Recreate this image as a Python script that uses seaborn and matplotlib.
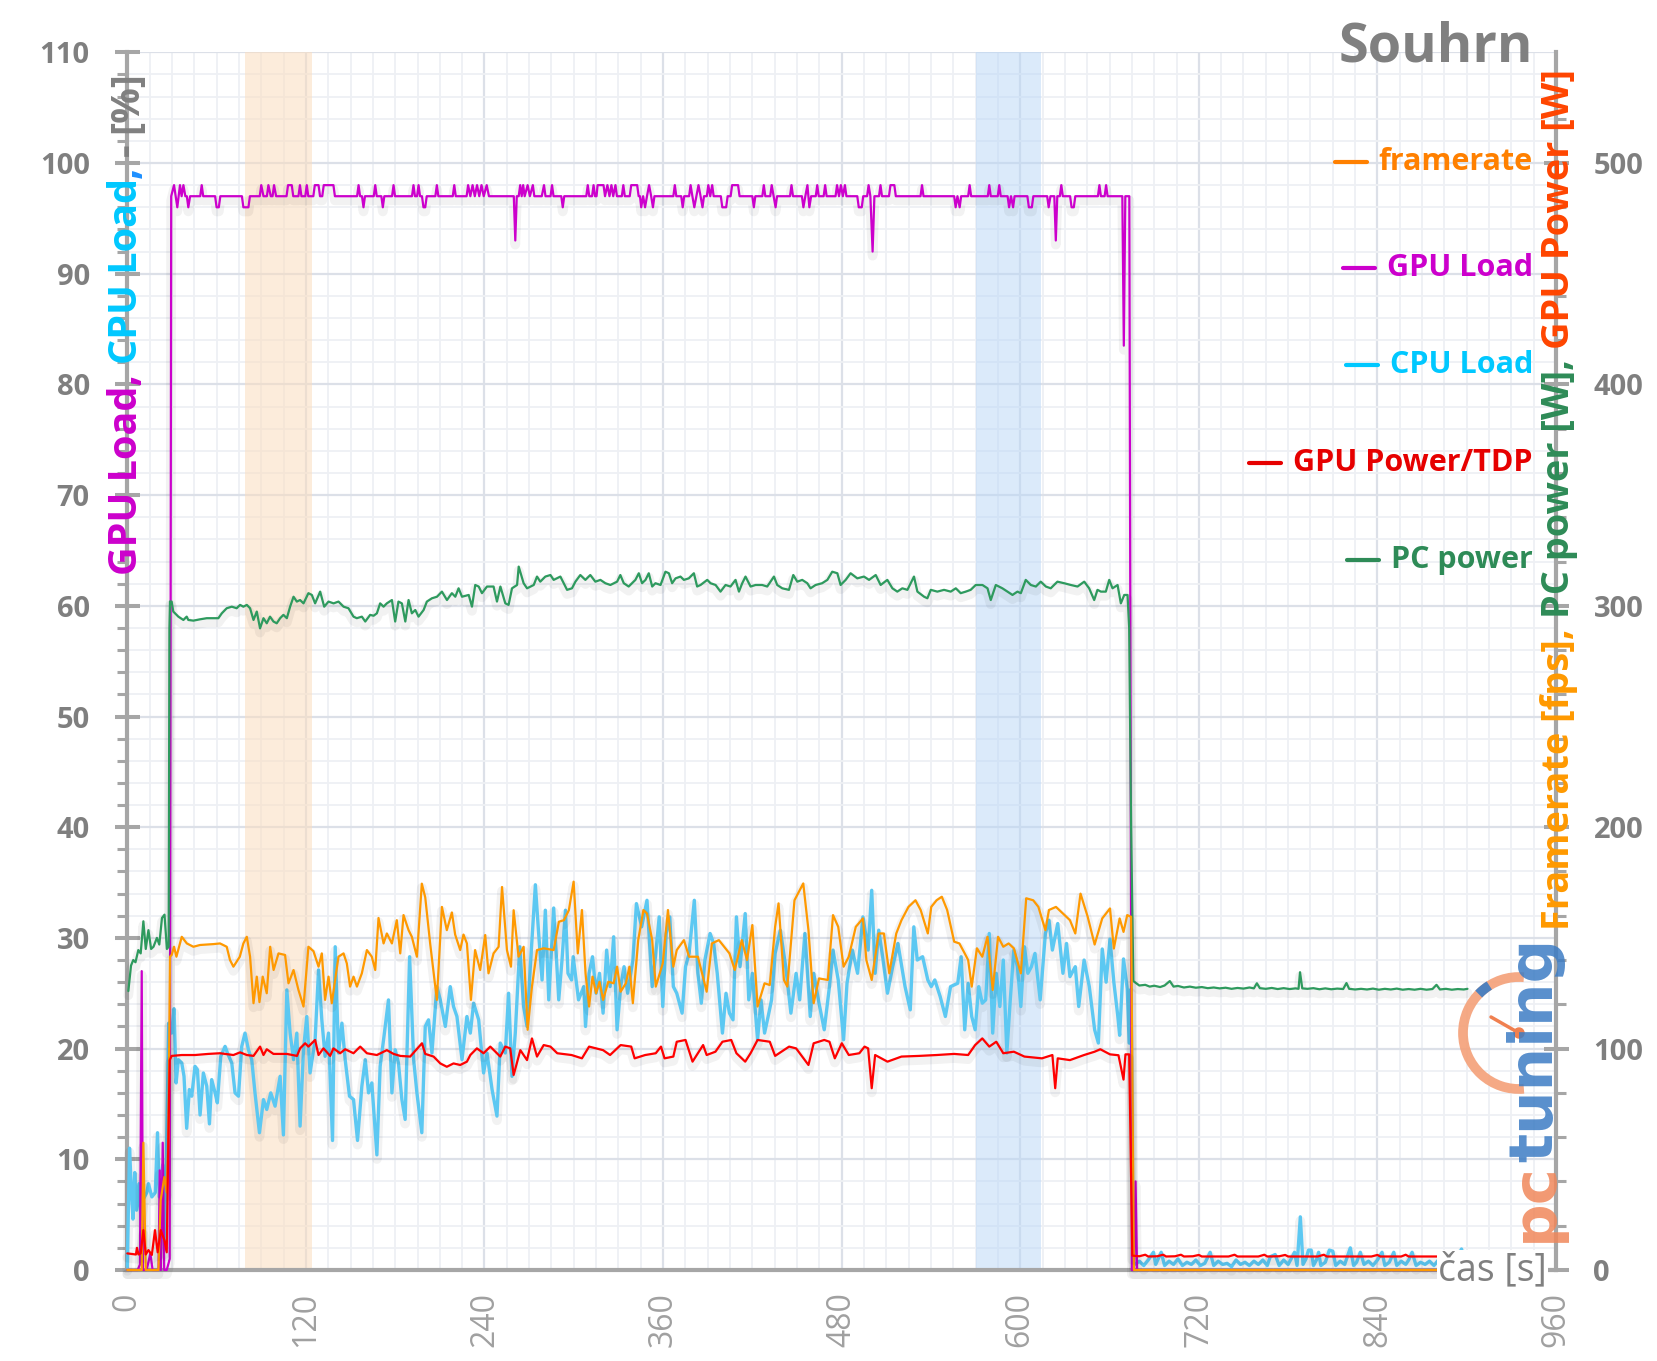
"""Souhrn: GPU/CPU load, framerate, GPU power and PC power over time."""

import matplotlib
matplotlib.use("Agg")
import matplotlib.pyplot as plt
import matplotlib.patheffects as pe
import pandas as pd
import seaborn as sns
from matplotlib.lines import Line2D
from matplotlib.patches import Arc, Circle
from matplotlib.ticker import MultipleLocator
from matplotlib.transforms import IdentityTransform

# ---------------------------------------------------------------- data
# (time [s], value) pairs

# GPU load [%]
gpu_load = [
    (0, 0), (7, 0), (8.5, 0.5), (9.7, 27), (10.5, 0), (13, 0), (15.5, 1.5), (17, 0), (21, 0), (21.8, 9),
    (22.6, 0), (23.8, 11.5), (24.8, 0), (26.5, 0), (28.5, 1), (29.5, 97),
    (31.4, 98), (32.5, 97), (33.6, 96), (34.5, 97), (35.4, 98), (36.5, 97), (37.7, 98), (39, 97), (40, 97),
    (41, 96), (42.2, 97), (49, 97), (50, 98), (51, 97), (59, 97), (60, 96), (61.5, 96), (62.5, 97),
    (77, 97), (78, 96), (81.4, 96), (82.4, 97), (89, 97), (90, 98), (91.5, 97), (93.8, 97), (94.8, 98),
    (96.4, 97), (97.6, 97), (98.6, 98), (100, 97), (107, 97), (108, 98), (110.5, 98), (111.5, 97),
    (115, 97), (116, 98), (117, 97), (119.6, 97), (120.6, 98), (121.6, 97), (125, 97), (126, 98),
    (128.5, 98), (129.5, 97), (131, 97), (132, 98), (138.5, 98), (139.5, 97),
    (154.4, 97), (155.4, 98), (156.4, 97), (157.7, 97), (158.7, 96), (159.7, 97),
    (165.6, 97), (166.6, 98), (167.6, 97), (170.7, 97), (171.7, 96), (172.7, 97), (177.9, 97), (178.9, 98),
    (179.9, 97), (191.3, 97), (192.3, 98), (193.3, 97), (194.7, 97), (195.7, 98), (196.7, 97), (198, 97),
    (199, 96), (200.2, 96), (201.2, 97), (207, 97), (208, 98), (209, 97), (218.7, 97), (219.7, 98),
    (220.7, 97), (228, 97), (229, 98), (230.5, 97), (232, 98), (233.5, 97), (235, 98), (236.5, 97),
    (238, 98), (239.5, 97), (241.5, 98), (243, 97), (259.7, 97), (260.7, 93), (261.7, 97), (263, 97),
    (264, 98), (265, 97), (266, 98), (267, 97), (269, 98), (270.5, 97), (272.5, 98), (273.5, 97),
    (278.5, 97), (280, 98), (281, 97), (284.4, 97), (285.4, 98), (286.4, 97), (291.6, 97), (292.6, 96),
    (293.6, 97), (308.4, 97), (309.4, 98), (310.4, 97), (312.3, 97), (313.3, 98), (314.3, 97), (315.3, 97),
    (316, 98), (320, 98), (321, 97), (322.6, 98), (324, 97), (325.3, 98), (326.5, 97), (328, 98), (329, 97),
    (332.3, 97), (333.3, 98), (334.3, 97), (337.6, 97), (338.6, 98), (342.6, 98), (343.6, 97), (344.5, 97),
    (345.3, 96), (346.6, 97), (347.9, 96), (349.2, 97), (350.6, 98), (352, 97), (353.2, 96), (354.2, 97),
    (366.9, 97), (367.9, 98), (368.9, 97), (372.2, 97), (373.2, 96), (374.2, 97), (377.5, 97), (378.5, 98),
    (379.7, 97), (381, 96), (382.4, 97), (383.8, 98), (385.2, 97), (386.5, 96), (387.5, 97), (389.4, 97),
    (390.4, 98), (391.7, 97), (393, 98), (394, 97), (398.8, 97), (399.8, 96), (402.4, 96), (403.4, 97),
    (405.4, 97), (406.4, 98), (410.4, 98), (411.4, 97), (420, 97), (421, 96), (422, 97), (426.7, 97),
    (427.7, 98), (428.7, 97), (432, 97), (433, 98), (434.3, 97), (435.6, 96), (436.6, 97), (445.3, 97),
    (446.3, 98), (447.3, 97), (453.3, 97), (454.3, 96), (455.6, 97), (457, 98), (458.3, 96), (459.5, 97),
    (462.6, 97), (463.6, 98), (464.6, 97), (467.9, 97), (468.9, 98), (469.9, 97), (475.9, 97), (476.9, 98),
    (478.2, 97), (479.5, 98), (480.8, 97), (482.2, 98), (483.2, 97), (490.5, 97), (491.5, 96), (493.5, 96),
    (494.5, 97), (497.1, 97), (498.1, 98), (499.3, 97), (500.8, 92), (502, 97), (505.1, 97), (506.1, 98),
    (507.1, 97), (511.8, 97), (512.8, 98), (515.4, 98), (516.4, 97), (533, 97), (534, 98), (535, 97),
    (555.6, 97), (556.6, 96), (557.8, 97), (559.3, 96), (560.3, 97), (565, 97), (566, 98), (567, 97),
    (578.2, 97), (579.2, 98), (580.2, 97), (584.9, 97), (585.9, 98), (586.9, 97), (591.5, 97), (592.5, 96),
    (593.8, 97), (595.2, 96), (596.2, 97), (604.8, 97), (605.8, 96), (607.8, 96), (608.8, 97), (618.1, 97),
    (619.1, 96), (620.3, 97), (622.9, 97), (623.9, 93), (624.9, 97), (626.6, 97), (627.6, 98), (628.6, 97),
    (633.5, 97), (634.5, 96), (636, 96), (637, 97), (652.2, 97), (653.2, 98), (654.2, 97), (656.7, 97),
    (657.7, 98), (658.7, 97), (668.6, 97), (669.6, 83.5), (670.6, 97), (673.3, 97), (675, 0), (676.5, 0),
    (677.5, 8), (678.5, 0), (900, 0),
]

# CPU load [%]
cpu_load = [
    (0, 0.3), (1.5, 11), (2.7, 7.3), (3.8, 4.6), (5, 8.8), (6.2, 5.4), (7.8, 7.8), (9.2, 4.6), (10.8, 6.4),
    (13.1, 7), (14.2, 7.8), (16.5, 6.6), (18.8, 7), (20.3, 12.4), (21.5, 6.6), (23.8, 9.5), (25, 1.8),
    (26.3, 10), (27.8, 22.3), (29.8, 21.4), (31.4, 23.6), (32.8, 16.9), (34.3, 19.0), (36.6, 18.7),
    (38.1, 17.5), (39.9, 12.8), (41.7, 16.3), (43.3, 15.7), (45.5, 18.4), (47.1, 18.1), (48.9, 14.0),
    (51.1, 17.8), (53.4, 16.6), (55.2, 13.2), (56.7, 17.2), (59, 16.0), (60.5, 15.1), (62.8, 19.3),
    (65.7, 20.2), (67.3, 19.6), (70.2, 18.7), (72.4, 16.0), (74.7, 15.7), (76.9, 20.2), (79.1, 21.4),
    (81.4, 19.9), (83.6, 19.0), (85.8, 16.0), (88.8, 12.4), (91.5, 15.4), (93.7, 14.5), (96.4, 16.0),
    (99.3, 14.8), (102.7, 17.5), (104.9, 12.2), (107.2, 25.3), (109.4, 21.4), (111.7, 19.0), (113.9, 21.4),
    (116.1, 13.0), (118.4, 19.9), (120.6, 22.9), (122.8, 17.8), (126.2, 20.8), (128.5, 27.1), (130.7, 22.6),
    (132.9, 19.3), (135.2, 21.4), (137.9, 11.7), (139.7, 29.2), (141.9, 19.6), (144.2, 22.3), (146.4, 19.0),
    (149.3, 15.7), (152, 15.4), (154.7, 11.7), (157.6, 16.6), (159.9, 19.0), (162.1, 16.0), (164.3, 16.9),
    (167.7, 10.4), (169.9, 18.4), (172.2, 20.8), (175.5, 24.4), (177.8, 16.0), (180, 19.9), (182.2, 18.7),
    (184.5, 15.4), (186.7, 13.6), (189.7, 28.3), (192.4, 19.0), (194.6, 16.0), (197.9, 12.4), (200.2, 22.0),
    (202.4, 22.6), (204.7, 19.6), (208, 25.6), (210.3, 24.4), (213.7, 22.0), (217, 25.6), (219.2, 23.8),
    (221.5, 22.9), (224.9, 19.0), (228.2, 22.9), (230.5, 21.4), (232.7, 24.1), (236.1, 22.6), (239.4, 17.8),
    (241.7, 19.6), (245.1, 16.3), (248.4, 13.9), (250.6, 20.5), (254, 19.6), (256.2, 25.0), (258.5, 17.5),
    (260.7, 21.4), (263.7, 29.2), (266.3, 23.8), (268.6, 22.0), (270.8, 27.4), (274.2, 34.8), (276.4, 30.4),
    (278.7, 26.2), (280.9, 32.5), (283.2, 24.4), (286.5, 32.7), (289.9, 24.4), (292.1, 28.0), (294.4, 32.5),
    (296.1, 26.8), (298.5, 26.2), (299.6, 28.3), (303.2, 24.4), (306.7, 25.6), (307.9, 22.0), (310.3, 26.8),
    (312.6, 28.3), (315, 25.0), (317.3, 26.8), (319.7, 23.2), (322.1, 28.9), (324.4, 25.6), (326.8, 30.1),
    (329.1, 21.7), (331.5, 25.6), (333.8, 27.4), (336.2, 25.0), (339.7, 28.0), (342.1, 33.1), (345.6, 31.0),
    (349.2, 33.4), (352.7, 25.6), (355.1, 28.6), (357.4, 31.9), (359.8, 23.8), (362.1, 30.4), (364.5, 31.9),
    (366.9, 25.6), (369.2, 25.0), (372.8, 23.2), (375.1, 27.4), (377.5, 28.6), (381, 33.4), (383.4, 26.8),
    (385.7, 24.1), (388.1, 28.0), (391.6, 30.4), (394, 29.5), (396.4, 26.8), (399.9, 21.4), (402.3, 25.0),
    (404.6, 23.2), (407, 22.6), (409.3, 31.9), (411.7, 27.4), (415.2, 32.2), (417.6, 24.4), (420, 26.8),
    (423.5, 20.8), (425.8, 24.4), (428.2, 21.4), (430.6, 22.9), (432.9, 24.4), (435.3, 28.6), (438.8, 30.7),
    (442.4, 27.4), (445.9, 23.2), (449.4, 26.8), (451.8, 24.4), (455.3, 30.4), (458.9, 22.9), (461.2, 26.8),
    (464.8, 24.1), (468.3, 21.7), (471.8, 25.6), (474.2, 28.9), (477.7, 26.2), (481.3, 20.8), (483.6, 25.9),
    (487.2, 28.9), (490.7, 26.8), (494.3, 31.9), (497.8, 28.9), (500.2, 34.3), (502.5, 26.8), (504.9, 30.7),
    (507.2, 28.6), (510.8, 25.0), (514.3, 27.4), (517.8, 29.5), (522.6, 25.6), (526.1, 23.5), (528.5, 31.0),
    (530.8, 28.0), (534.4, 28.3), (537.9, 26.2), (540.2, 25.6), (542.6, 26.2), (546.2, 24.7), (549.7, 22.9),
    (553.2, 25.6), (558, 25.9), (560.3, 28.3), (562.7, 21.7), (565, 25.9), (567.4, 22.9), (569.7, 21.7),
    (572.1, 25.6), (574.5, 24.1), (576.8, 24.4), (579.2, 30.4), (581.5, 21.4), (583.9, 26.8), (586.3, 23.8),
    (588.6, 28.0), (591, 19.6), (593.3, 24.4), (595.7, 28.9), (598.1, 27.4), (600.4, 23.8), (602.8, 29.2),
    (605.1, 26.8), (607.5, 27.4), (609.9, 28.6), (613.4, 24.4), (616.9, 30.4), (619.3, 31.6), (621.6, 28.9),
    (625.2, 31.3), (628.7, 26.8), (631.1, 29.5), (633.4, 26.5), (637, 27.4), (639.3, 23.8), (642.9, 28.0),
    (646.4, 25.6), (650, 21.7), (652.5, 20.5), (655.1, 29.0), (657.7, 26.0), (660.3, 29.9), (662.9, 26.0),
    (665.5, 23.0), (666.8, 21.2), (669.4, 28.1), (671.9, 25.4), (673.2, 20.5), (674.5, 25.4), (675.8, 0.8),
    (677, 0.5), (680, 0.8), (683, 0.4), (686, 0.9), (689.5, 1.6), (691, 0.5), (694.7, 1.6), (697, 0.4),
    (700, 0.8), (703, 0.5), (706, 1.0), (709, 0.4), (712, 0.7), (715, 0.5), (718, 0.9), (721, 0.4),
    (724, 0.6), (727.6, 1.6), (730, 0.4), (733, 0.8), (736, 0.5), (739, 0.6), (742, 0.3), (745, 0.9),
    (748, 0.5), (751, 0.7), (754, 0.4), (757, 0.8), (760, 0.5), (763, 0.9), (766, 0.4), (768, 1.2),
    (771.3, 1.4), (774, 0.4), (777, 0.9), (780, 0.5), (782, 1.0), (784.3, 1.6), (786, 0.4), (788.2, 4.8),
    (790, 0.5), (792, 1.0), (793.7, 1.8), (795.5, 1.8), (797, 0.4), (799, 0.9), (800.5, 1.6), (802, 0.4),
    (805, 0.7), (807.7, 1.8), (810, 1.7), (812, 0.4), (815, 0.8), (818, 0.5), (821.8, 2.0), (824, 0.4),
    (826, 0.7), (828.5, 1.6), (831, 0.5), (834, 0.8), (837, 0.4), (840, 0.9), (843.1, 1.6), (845, 0.4),
    (848, 0.7), (851, 1.6), (853, 0.4), (856, 0.8), (859, 0.5), (861, 0.9), (863.3, 1.6), (866, 0.4),
    (869, 0.7), (872, 0.5), (875, 0.8), (878, 0.4), (881, 0.9), (884, 0.5), (887, 0.7), (890, 0.4),
    (893, 0.8), (896.5, 1.9), (899, 0.6), (901, 1.3),
]

# framerate [fps]
framerate = [
    (0, 0), (9.7, 0), (10.8, 57.5), (12.4, 0), (20.9, 0), (22.4, 31.5), (24.9, 42), (26.5, 35), (27.6, 60),
    (28.7, 141.5), (29.8, 142.3), (31.4, 146), (33, 141.5), (36.6, 150.5), (40, 147.5), (44.4, 146),
    (48.9, 146.8), (57.9, 147.2), (62.3, 147.5), (66.8, 146), (69, 140), (71.3, 137), (75.6, 141.5),
    (78, 147.5), (80.3, 150.5), (82.5, 141.5), (84.8, 120.5), (87, 132.5), (88.8, 121), (91, 132.5),
    (93.7, 125), (96, 146), (98.3, 135.5), (101.6, 143), (106, 142.3), (108.3, 129.5), (111.7, 135.5),
    (115, 126.5), (118.4, 119), (121.7, 146), (125.1, 144), (128.5, 137), (130.7, 143), (132.9, 122),
    (135.2, 132.5), (137.4, 120.5), (141.9, 141.5), (145.3, 143), (147.5, 138.5), (149.7, 128), (152, 132.5),
    (154.3, 128), (157.6, 134), (161, 144.5), (164.3, 141.5), (166.6, 135.5), (168.8, 159), (172.2, 147.5),
    (174.4, 152), (177.8, 147.5), (181.1, 158), (183.4, 143), (185.6, 160.3), (189, 153.5), (191.2, 150.5),
    (194.6, 141.5), (197.9, 174.5), (200.2, 168.3), (203.5, 147.5), (208, 122), (211.4, 164), (214.7, 153.5),
    (218.1, 161.5), (220.3, 151.5), (223.7, 144.5), (225.9, 151.5), (228.2, 147.5), (230.9, 122),
    (233.7, 144.5), (237.1, 135.5), (240.5, 151.3), (242.7, 134), (246.1, 143), (249.5, 146), (251.8, 173),
    (255.1, 144.5), (257.8, 137), (259.6, 162.5), (262.9, 141.5), (266.3, 146), (269, 108.5), (271.9, 128),
    (275.3, 144.5), (279.8, 145.3), (286.5, 144.5), (290, 157.3), (293.4, 158), (296.7, 162.5),
    (299.9, 175.4), (302.7, 143), (305.5, 162.6), (307.9, 134), (310.3, 119), (312.6, 132.5), (315, 125),
    (317.3, 130.2), (319.7, 122), (323.2, 130.2), (326.8, 129.5), (329.1, 137), (331.5, 125.7), (335, 129.5),
    (337.4, 137), (339.7, 120.5), (343.3, 149), (346.8, 162.6), (349.2, 161), (352.7, 149), (355.1, 128),
    (359.8, 138.5), (363.3, 162.6), (366.9, 137), (369.2, 144.5), (374, 149), (377.5, 141.5), (383.4, 141.5),
    (389.3, 125.7), (392.8, 147.5), (397.5, 149), (404.6, 143), (408.2, 135.5), (412.9, 149), (416.4, 140),
    (420, 155.8), (423.5, 119), (428.2, 129.5), (431.7, 128.7), (435.3, 155), (437.6, 165.6), (441.2, 131),
    (443.5, 128), (448.3, 167), (454.2, 174.6), (457.7, 153.5), (461.2, 120.5), (464.8, 131.7), (470.7, 131),
    (474.2, 160.3), (477.7, 155), (481.3, 137), (484.8, 141.5), (489.5, 155), (494.3, 158.8), (496.6, 140),
    (500.2, 131), (504.9, 152), (508.4, 152), (512, 134), (516.7, 152), (520.2, 158), (524.9, 164),
    (529.6, 167), (533.1, 162.6), (537.9, 152), (540.2, 164), (543.8, 167), (547.3, 168.6), (550.9, 162.6),
    (555.6, 148.3), (559.1, 147.5), (562.7, 143), (565, 140), (567.4, 128), (570.9, 145.3), (574.5, 141.5),
    (578, 150.5), (581.5, 126.5), (585.1, 150.5), (588.6, 146), (592.2, 147.5), (595.7, 145.3), (600.4, 134),
    (604, 167.9), (608.7, 167), (612.2, 164), (616.9, 153.5), (619.3, 162.6), (624, 164), (628.7, 161),
    (633.4, 158), (637, 152), (640.5, 170), (645.3, 159.6), (650, 147), (655.1, 158.8), (660.3, 163.3),
    (662.9, 145.2), (666.8, 158.8), (669.4, 152.7), (671.9, 160.3), (674.5, 159.5), (676.4, 0), (900, 0),
]

# GPU power [W]
gpu_power = [
    (0, 7.5), (5.8, 7), (6.5, 10), (7.5, 7), (9, 7.5), (10.8, 18), (12.4, 7), (14.2, 9), (16.5, 6.8),
    (18.6, 18), (20.4, 8), (22.5, 18), (24.9, 13.5), (26.5, 8), (27.6, 60), (28.5, 94.8), (29.8, 96.7),
    (36.6, 97.1), (45.5, 97.1), (54.4, 97.6), (62.3, 97.9), (71.3, 97.1), (75.8, 98.3), (80.3, 97.1),
    (84.8, 96.7), (89.2, 100.9), (91.5, 97.1), (93.7, 99.7), (98.2, 97.6), (107.2, 97.6), (114, 96.7),
    (116.1, 100.1), (119.5, 102.4), (121.7, 100.9), (126.2, 103.9), (128.5, 97.1), (131.8, 100.1),
    (136.3, 96.7), (138.5, 100.1), (143, 97.9), (146.4, 99.7), (152, 97.9), (156.5, 100.9), (161, 97.9),
    (167.7, 97.1), (174.4, 99.3), (178.9, 97.6), (183.4, 96.7), (190.1, 96.4), (198, 102.4), (200.2, 97.6),
    (205.8, 96.4), (210.3, 93.3), (214.7, 91.8), (219.2, 93.3), (223.7, 92.6), (228.2, 94.1), (230.5, 97.1),
    (234.9, 100.1), (239.4, 97.9), (243.9, 100.9), (250.6, 96.4), (254, 100.9), (257.3, 100.1), (259.6, 88.1),
    (264.1, 99.3), (268.6, 94.8), (271.9, 104.6), (275.3, 96.4), (279.8, 101.6), (284.3, 100.9),
    (288.9, 97.9), (298.5, 97.1), (305.5, 95.6), (310.3, 100.9), (319.7, 99.3), (324.4, 97.1), (331.5, 101.6),
    (338.6, 100.9), (340.9, 95.6), (348, 97.1), (355.1, 97.9), (358.6, 100.9), (361, 95.6), (366.9, 96.4),
    (369.2, 103.1), (375.1, 103.9), (379.8, 94.1), (383.4, 97.9), (386.9, 101.6), (389.3, 97.1),
    (395.2, 98.6), (399.9, 103.1), (405.8, 103.9), (409.3, 97.9), (415.2, 94.1), (418.8, 97.9),
    (423.5, 103.9), (431.7, 103.1), (435.3, 96.7), (444.7, 100.9), (449.4, 100.1), (457.7, 92.6),
    (461.2, 102.4), (468.3, 103.9), (471.8, 103.1), (475.4, 95.6), (480.1, 102.4), (484.8, 97.1),
    (491.9, 97.9), (495.4, 100.9), (497.8, 100.1), (500.2, 82.1), (502.5, 97.1), (510.8, 94.1), (520.2, 96.4),
    (532, 96.7), (543.8, 97.1), (555.6, 97.6), (565, 97.1), (569.7, 101.6), (574.5, 104.6), (579.2, 100.9),
    (583.9, 103.1), (588.6, 97.9), (595.7, 98.6), (602.8, 96.4), (614.6, 95.6), (621.6, 97.1), (623.5, 82.1),
    (625.2, 95.6), (633.4, 94.8), (642.9, 97.1), (650, 98.6), (653.8, 99.7), (660.3, 97.4), (666, 97),
    (669.4, 86), (670.7, 97.4), (673.2, 97.4), (675.3, 6.5), (680, 6.2), (684, 6.9), (686, 6.1), (692, 6.2),
    (696, 6.9), (698, 6.1), (704, 6.2), (708, 6.9), (710, 6.1), (716, 6.2), (720, 6.8), (722, 6.1),
    (740, 6.1), (744, 6.9), (746, 6.1), (760, 6.1), (764, 6.9), (766, 6.1), (774, 6.2), (778, 6.8),
    (780, 6.1), (800, 6.1), (804, 6.9), (806, 6.1), (836, 6.1), (840, 6.8), (842, 6.1), (856, 6.1),
    (859, 6.9), (861, 6.1), (890, 6.1), (894, 6.8), (896, 6.1), (900, 6.2),
]

# PC power [W]
pc_power = [
    (0.7, 126), (2.5, 137.5), (4, 140), (5.5, 139), (7.4, 144.5), (9, 143), (10.8, 157.5), (12.4, 145),
    (14.2, 153.5), (16, 145), (17.6, 146), (19.9, 150), (21.5, 147), (23.3, 159), (25, 160.5), (26.6, 145),
    (27.8, 146), (28.3, 290), (28.7, 302), (29.8, 301.9), (30.9, 297.4), (34.3, 295.1), (37.7, 293.6),
    (39.9, 295.1), (41, 293.6), (44.4, 293.3), (48.9, 293.9), (53.4, 294.4), (61.2, 294.4), (63.5, 296.6),
    (66.8, 298.9), (70.2, 299.6), (73.5, 298.9), (75.8, 300.4), (78, 299.6), (80.3, 300.4), (82.5, 298.9),
    (84.8, 293.6), (87, 297.4), (89.2, 289.8), (91.5, 294.4), (93.7, 292.1), (95.9, 295.1), (98.2, 292.9),
    (100.4, 292.1), (102.7, 294.4), (104.9, 295.9), (107.2, 294.4), (109.4, 299.6), (111.7, 304.1),
    (113.9, 301.9), (116.1, 302.6), (118.4, 301.1), (121.7, 305.7), (124, 304.9), (126.2, 301.1),
    (129.6, 306.4), (132.3, 299.6), (135.2, 301.9), (138.6, 301.1), (141.9, 301.9), (145.3, 299.6),
    (148.6, 298.9), (152, 295.1), (154.2, 294.4), (157.6, 295.1), (159.9, 292.9), (163.2, 295.9),
    (165.5, 295.5), (167.7, 296.6), (169.9, 301.1), (172.2, 299.6), (174.4, 301.1), (177.8, 302.6),
    (180, 292.9), (182.2, 301.9), (184.5, 301.1), (186.8, 292.9), (189, 302.6), (191.2, 296.6),
    (193.5, 298.1), (195.7, 295.1), (199.1, 298.1), (201.3, 301.9), (204.7, 303.4), (208.1, 304.1),
    (211.4, 306.4), (214.8, 302.6), (218.1, 305.7), (220.4, 304.1), (222.6, 307.9), (224.9, 304.1),
    (229.4, 304.9), (231.6, 299.6), (233.8, 309.4), (236.1, 308.7), (238.3, 305.7), (241.7, 308.7),
    (246.1, 308.7), (248.4, 301.9), (250.7, 308.7), (254, 301.1), (256.2, 300.4), (258.5, 307.9),
    (261.9, 309.4), (263, 317.7), (266.3, 310.2), (268.6, 307.9), (273.1, 309.4), (275.3, 313.2),
    (277.5, 310.9), (280.9, 313.2), (284.3, 313.9), (286.5, 311.7), (291, 313.2), (295.5, 307.2),
    (298.8, 307.9), (301.1, 310.9), (304.4, 313.9), (307.8, 311.7), (311.1, 313.9), (314.5, 310.9),
    (317.9, 311.7), (321.2, 310.2), (324.6, 309.4), (329.1, 310.9), (331.3, 313.9), (333.6, 310.2),
    (336.9, 308.7), (341.4, 311.7), (343.7, 314.7), (345.9, 310.2), (348.2, 311.7), (350.4, 314.7),
    (352.7, 308.7), (354.9, 310.2), (358.3, 309.4), (361.6, 315.4), (363.9, 314.7), (366.1, 310.2),
    (368.4, 312.4), (371.7, 313.2), (374, 311.7), (377.3, 312.4), (380.7, 314.7), (382.9, 308.7),
    (385.2, 309.4), (389.7, 311.7), (391.9, 310.2), (395.3, 309.4), (398.6, 306.4), (402, 309.4),
    (405.3, 308.7), (408.7, 311.7), (411, 306.4), (413.2, 310.2), (415.4, 313.2), (418.8, 308.7),
    (422.2, 309.4), (426.6, 309.4), (430, 308.7), (434.5, 313.2), (436.7, 309.4), (440.1, 307.9),
    (444.6, 307.2), (447.5, 313.9), (450.2, 310.9), (453.5, 311.7), (456.9, 310.2), (459.1, 307.9),
    (462.5, 309.4), (466.9, 310.2), (470.4, 311.7), (473.7, 315.4), (477.1, 314.7), (479.3, 309.4),
    (482.7, 311.7), (486, 314.7), (490.5, 312.4), (495, 313.2), (498.4, 311.7), (502.9, 313.9),
    (506.2, 309.4), (510.7, 311.7), (514.1, 307.9), (517.4, 306.4), (520.8, 307.9), (524.2, 307.2),
    (528.6, 313.2), (530.9, 306.4), (535.4, 304.1), (537.6, 303.4), (539.9, 307.2), (544.3, 306.4),
    (548.8, 307.2), (553.3, 306.4), (556.7, 307.9), (560, 305.7), (563.4, 306.4), (566.7, 307.2),
    (570.1, 309.4), (574.6, 309.4), (578, 307.9), (580.2, 302.6), (583.6, 309.4), (588, 307.9),
    (591.4, 306.4), (594.8, 304.9), (598.1, 306.4), (600.4, 305.7), (603.7, 311.7), (607.1, 309.4),
    (610.5, 308.7), (613.8, 310.9), (617.2, 308.7), (620.5, 307.9), (625, 310.9), (629.5, 310.2),
    (634, 309.4), (638.5, 308.7), (643, 310.9), (646.3, 307.9), (649.7, 302.6), (651.9, 307.2),
    (654.2, 306.4), (657.5, 306.4), (659.8, 311.7), (662, 307.9), (665.4, 309.4), (667.6, 301.1),
    (669.9, 304.9), (672.1, 304.9), (673.2, 290), (674.5, 200), (676, 130.5), (680, 128.5), (684, 128.8),
    (687, 128), (690, 128.4), (694, 127.8), (697, 128.5), (700.5, 130.5), (703, 128), (706, 128.3),
    (710, 127.6), (714, 128), (718, 127.5), (722, 127.8), (726, 127.3), (730, 127.6), (734, 127.2),
    (738, 127.5), (742, 127.0), (746, 127.4), (750, 127.1), (754, 127.6), (757, 127.2), (759, 129.5),
    (761, 127.3), (765, 127.0), (769, 127.4), (773, 126.9), (777, 127.3), (781, 126.9), (785, 127.2),
    (787, 127.0), (788, 134.5), (789.5, 127.2), (793, 127.0), (797, 127.3), (801, 126.8), (805, 127.2),
    (809, 126.8), (813, 127.1), (817, 126.9), (819.2, 129.6), (821, 127.0), (825, 126.7), (829, 127.0),
    (833, 126.7), (837, 127.1), (841, 126.6), (845, 127.0), (849, 126.7), (853, 127.1), (857, 126.6),
    (861, 126.9), (865, 126.6), (869, 127.0), (873, 126.6), (877, 126.9), (879.7, 128.8), (882, 126.7),
    (886, 127.0), (890, 126.6), (894, 126.9), (898, 126.7), (900.5, 127.0),
]

# highlighted time windows [s]
orange_window = (79, 124)
blue_window = (570, 614)

legend_labels = ["framerate", "GPU Load", "CPU Load", "GPU Power/TDP", "PC power"]
legend_colors = ["#FF8000", "#CC00CC", "#00C8FF", "#E60000", "#2E8B57"]

# ---------------------------------------------------------------- figure
W, H = 1658, 1361
sns.set_style("white")
plt.rcParams["font.family"] = ["Open Sans", "DejaVu Sans"]

GRAY = "#A6A6A6"
TXT = "#7F7F7F"

fig = plt.figure(figsize=(W / 100, H / 100), dpi=100)
ax = fig.add_axes([127.3 / W, 1 - 1270 / H, (1556 - 127.3) / W, (1270 - 52.3) / H])
ax2 = ax.twinx()

shadow = [pe.SimpleLineShadow(offset=(0, -3), shadow_color="k", alpha=0.05, linewidth=7), pe.Normal()]


def draw(axis, pts, color, lw, z):
    df = pd.DataFrame(pts, columns=["t", "v"])
    sns.lineplot(data=df, x="t", y="v", ax=axis, color=color, linewidth=lw, estimator=None,
                 sort=False, legend=False, zorder=z, path_effects=shadow, clip_on=False)


# left axis: loads in %
ax.axvspan(*orange_window, color="#FBDDBF", alpha=0.55, lw=0, zorder=1)
ax.axvspan(*blue_window, color="#B9D7F7", alpha=0.5, lw=0, zorder=1)
draw(ax, cpu_load, "#5CC8F2", 2.4, 3)
draw(ax, gpu_load, "#CC00CC", 1.6, 4)

# right axis: framerate and power
draw(ax2, pc_power, "#2E9A5E", 1.6, 3)
draw(ax2, framerate, "#FF9900", 1.6, 4)
draw(ax2, gpu_power, "#FF0000", 1.6, 5)

ax.set_xlim(0, 960)
ax.set_ylim(0, 110)
ax2.set_ylim(0, 550)
ax.set_xlabel("")
ax.set_ylabel("")
ax2.set_ylabel("")

ax.xaxis.set_major_locator(MultipleLocator(120))
ax.xaxis.set_minor_locator(MultipleLocator(15))
ax.yaxis.set_major_locator(MultipleLocator(10))
ax.yaxis.set_minor_locator(MultipleLocator(2))
ax2.yaxis.set_major_locator(MultipleLocator(100))
ax2.yaxis.set_minor_locator(MultipleLocator(20))

ax.grid(which="major", color="#DCE0E8", lw=1.6)
ax.grid(which="minor", color="#EEF0F4", lw=1.3)
ax.set_axisbelow(True)
ax2.grid(False)

for s in ["top", "right"]:
    ax.spines[s].set_visible(False)
for s in ["top", "left", "bottom"]:
    ax2.spines[s].set_visible(False)
for sp in [ax.spines["left"], ax.spines["bottom"], ax2.spines["right"]]:
    sp.set_color(GRAY)
    sp.set_linewidth(3)

ax.tick_params(axis="y", which="major", direction="inout", length=18, width=2.9, color=GRAY,
               labelsize=21, labelcolor=TXT, pad=18)
ax.tick_params(axis="y", which="minor", direction="out", length=7, width=2.2, color=GRAY)
ax2.tick_params(axis="y", which="major", direction="inout", length=18, width=2.9, color=GRAY,
                labelsize=21, labelcolor=TXT, pad=18)
ax2.tick_params(axis="y", which="minor", direction="out", length=7, width=2.2, color=GRAY)
ax.tick_params(axis="x", which="major", direction="out", length=7, width=3.6, color=GRAY,
               labelsize=23, labelcolor="#A0A0A0", labelrotation=90, pad=9)
ax.tick_params(axis="x", which="minor", length=0)
for lab in ax.get_yticklabels() + ax2.get_yticklabels():
    lab.set_fontweight("bold")

# ---------------------------------------------------------------- texts
fig.canvas.draw()
renderer = fig.canvas.get_renderer()


def vertical_text(x_px, y_px, pieces, size, weight="bold", family=None, alpha=1.0):
    """Stack coloured pieces of text bottom-to-top, baseline at x_px."""
    y = y_px
    for text, color, gap in pieces:
        kw = dict(rotation=90, rotation_mode="anchor", ha="left", va="baseline", color=color,
                  fontsize=size, fontweight=weight, alpha=alpha)
        if family:
            kw["family"] = family
        t = fig.text(x_px / W, y / H, text, **kw)
        y += t.get_window_extent(renderer).height + gap * size * 100 / 72


vertical_text(137, H - 575, [("GPU Load,", "#CC00CC", 0.26), ("CPU Load", "#00C8FF", 0.0),
                             (",", "#1E90FF", 0.26), ("-", "#808080", 0.26), ("[%]", "#808080", 0)], 28.5)
vertical_text(1569, H - 930, [("Framerate [fps],", "#FF9900", 0.26), ("PC power [W],", "#2E8B57", 0.26),
                              ("GPU Power [W]", "#FF4500", 0)], 27.3)

fig.text(1533 / W, 1 - 47 / H, "Souhrn", ha="right", va="center", fontsize=39,
         fontweight="bold", color="#808080")

legend_y = [162, 267.5, 365, 463, 560]
for label, color, y_img in zip(legend_labels, legend_colors, legend_y):
    t = fig.text(1533 / W, 1 - y_img / H, label, ha="right", va="center", fontsize=22,
                 fontweight="bold", color=color)
    bb = t.get_window_extent(renderer)
    x1 = bb.x0 - 12
    fig.add_artist(Line2D([(x1 - 32) / W, x1 / W], [1 - y_img / H] * 2, color=color, lw=3,
                          transform=fig.transFigure))

fig.text(1547 / W, 1 - 1270 / H, "čas [s]", ha="right", va="center", fontsize=27, color="#808080",
         bbox=dict(fc="white", ec="none", pad=0.5))

# pctuning watermark
vertical_text(1552, H - 1242, [("pc", "#F0875A", 0.0), ("tuning", "#3C7CC4", 0)], 44,
              weight="bold", family="DejaVu Sans", alpha=0.85)
cx, cy = 1519, H - 1033
fig.add_artist(Arc((cx, cy), 112, 112, theta1=85, theta2=275, lw=7, color="#F4A078", alpha=0.9,
                   transform=IdentityTransform()))
fig.add_artist(Arc((cx, cy), 112, 112, theta1=122, theta2=136, lw=7, color="#3C7CC4", alpha=0.9,
                   transform=IdentityTransform()))
fig.add_artist(Line2D([cx, cx - 28], [cy, cy + 16], color="#F08050", lw=2.5, transform=IdentityTransform()))
fig.add_artist(Circle((cx, cy), 5, color="#F08050", transform=IdentityTransform()))

fig.savefig("out.png", dpi=100)
